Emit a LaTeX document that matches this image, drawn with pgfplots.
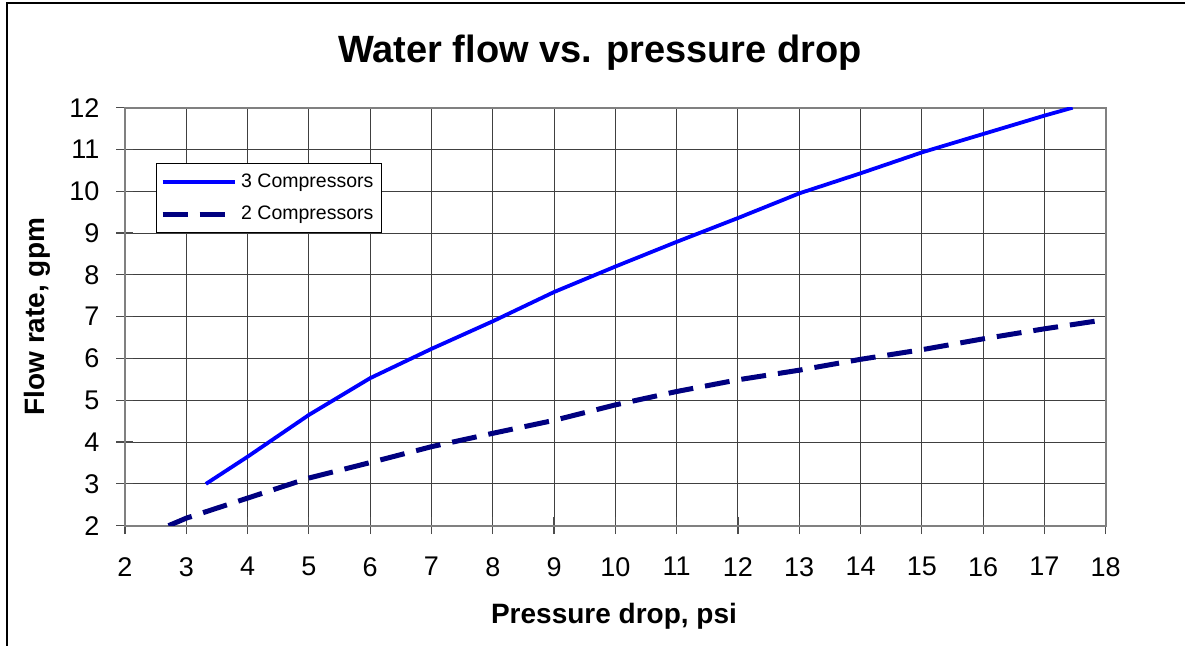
\documentclass[border=0pt]{standalone}
\usepackage{pgfplots}
\pgfplotsset{compat=1.18}
\usepackage{fontspec}
\setmainfont{Liberation Sans}
\definecolor{navyline}{RGB}{0,0,128}
\definecolor{blueline}{RGB}{0,0,255}
\begin{document}
\begin{tikzpicture}[x=1pt,y=1pt]
\begin{axis}[
  at={(62.5pt,60.15pt)}, anchor=south west,
  scale only axis, width=490.35pt, height=209pt,
  xmin=2, xmax=18, ymin=2, ymax=12,
  xtick={2,...,18}, ytick={2,...,12},
  tick pos=left,
  grid=major,
  major grid style={black!75, line width=0.5pt},
  axis line style={gray, line width=1pt},
  tick align=center, major tick length=8.5pt,
  tick style={black!70, line width=0.6pt},
  /pgf/number format/assume math mode=true,
  tick label style={font=\fontsize{13.5}{15}\selectfont},
  xticklabel style={yshift=-8pt},
  yticklabel style={xshift=-5pt},
  legend cell align=left,
  legend style={at={(0.0313,0.8677)}, anchor=north west, draw=black, line width=0.5pt,
    fill=white, font=\fontsize{9.75}{12}\selectfont, inner xsep=2pt, inner ysep=3pt,
    row sep=4pt},
  legend image code/.code={\draw[#1] (0pt,0pt) -- (36pt,0pt);},
  clip=true,
]
\addplot[blueline, line width=1.9pt] coordinates {
(3.32,3.0) (4,3.65) (5,4.65) (6,5.53) (7,6.23) (8,6.89) (9,7.59) (10,8.2)
(11,8.79) (12,9.36) (13,9.95) (14,10.43) (15,10.93) (16,11.37) (17,11.81) (17.46,12.0)
};
\addlegendentry{3 Compressors}
\addplot[navyline, line width=2.5pt, dash pattern=on 12.5pt off 6pt] coordinates {
(2.71,2.0) (3,2.18) (4,2.66) (5,3.14) (6,3.51) (7,3.89) (8,4.21) (9,4.52)
(10,4.89) (11,5.21) (12,5.49) (13,5.72) (14,5.98) (15,6.21) (16,6.47) (17,6.71) (18,6.93)
};
\addlegendentry{2 Compressors}
\end{axis}
\node[font=\fontsize{19}{22}\selectfont\bfseries, anchor=base] at (300,291.5) {Water flow vs. pressure drop};
\node[font=\fontsize{14}{16}\selectfont\bfseries, anchor=base] at (307,11) {Pressure drop, psi};
\node[font=\fontsize{14}{16}\selectfont\bfseries, anchor=base, rotate=90] at (22.5,164.65) {Flow rate, gpm};
\draw[line width=1pt] (3.65,-5) -- (3.65,321.35) -- (600,321.35);
\pgfresetboundingbox
\useasboundingbox (0,0) rectangle (592.5,323);
\end{tikzpicture}
\end{document}
